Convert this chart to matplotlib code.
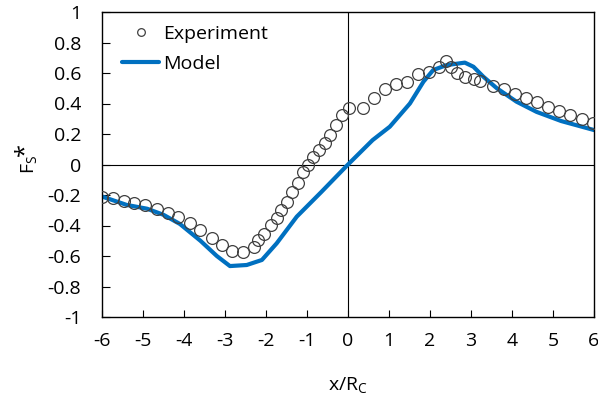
import matplotlib.pyplot as plt

plt.rcParams['font.family'] = ['Open Sans', 'DejaVu Sans']
plt.rcParams['axes.unicode_minus'] = False
plt.rcParams['mathtext.default'] = 'regular'

# experiment data
exp_x = [-6.0, -5.72, -5.46, -5.21, -4.95, -4.67, -4.40, -4.14, -3.85, -3.60, -3.32, -3.08,
         -2.84, -2.55, -2.29, -2.19, -2.04, -1.89, -1.74, -1.63, -1.50, -1.36, -1.21, -1.10,
         -0.97, -0.85, -0.71, -0.56, -0.44, -0.30, -0.15, 0.03, 0.37, 0.64, 0.90, 1.17, 1.45,
         1.71, 1.98, 2.22, 2.38, 2.50, 2.65, 2.85, 3.07, 3.22, 3.54, 3.80, 4.07, 4.34, 4.60,
         4.89, 5.15, 5.41, 5.70, 5.97]
exp_y = [-0.211, -0.222, -0.237, -0.254, -0.266, -0.294, -0.316, -0.342, -0.386, -0.43, -0.484, -0.528,
         -0.567, -0.572, -0.539, -0.495, -0.456, -0.397, -0.353, -0.298, -0.244, -0.178, -0.119, -0.047,
         -0.003, 0.051, 0.095, 0.139, 0.193, 0.259, 0.325, 0.369, 0.372, 0.434, 0.493, 0.528, 0.543,
         0.593, 0.609, 0.642, 0.680, 0.640, 0.600, 0.575, 0.558, 0.549, 0.515, 0.493, 0.462, 0.434, 0.412,
         0.379, 0.353, 0.325, 0.298, 0.270]

# model curve
model_x = [-6, -5.4, -4.9, -4.5, -4.1, -3.6, -3.2, -2.88, -2.47, -2.1, -1.74, -1.25, -0.65, 0,
           0.6, 1.02, 1.51, 1.84, 2.08, 2.41, 2.85, 3.06, 3.3, 3.63, 4.11, 4.6, 5.2, 6]
model_y = [-0.21, -0.265, -0.29, -0.33, -0.39, -0.5, -0.6, -0.666, -0.659, -0.626, -0.517, -0.342,
           -0.18, 0, 0.16, 0.248, 0.40, 0.543, 0.62, 0.652, 0.668, 0.641, 0.576, 0.5, 0.412, 0.345,
           0.285, 0.226]

fig = plt.figure(figsize=(5.98, 4), dpi=100)
ax = fig.add_axes([0.1706, 0.2075, 0.8227, 0.7625])

ax.axhline(0, color='black', lw=0.8, zorder=1)
ax.axvline(0, color='black', lw=0.8, zorder=1)

ax.plot(exp_x, exp_y, 'o', mfc='none', mec='#404040', mew=0.9, ms=8.5, label='Experiment', zorder=3)
ax.plot(model_x, model_y, color='#0070C0', lw=3, solid_joinstyle='round', solid_capstyle='round',
        label='Model', zorder=2)

ax.set_xlim(-6, 6)
ax.set_ylim(-1, 1)
ax.set_xticks(range(-6, 7))
ax.set_yticks([-1, -0.8, -0.6, -0.4, -0.2, 0, 0.2, 0.4, 0.6, 0.8, 1])
ax.set_yticklabels(['-1', '-0.8', '-0.6', '-0.4', '-0.2', '0', '0.2', '0.4', '0.6', '0.8', '1'])
ax.tick_params(axis='x', direction='in', length=5, width=0.8, pad=11, labelsize=14)
ax.tick_params(axis='y', direction='in', length=6, width=0.8, pad=15, labelsize=14)
for s in ax.spines.values():
    s.set_linewidth(1.0)

ax.set_xlabel('x/R$_C$', fontsize=14, labelpad=18)
ylab = ax.set_ylabel('F$_S$', fontsize=14, labelpad=6)
ax.annotate('*', xy=(0.3, 0.95), xycoords=ylab, rotation=90, ha='center', va='bottom',
            fontsize=17)

ax.legend(loc='upper left', frameon=False, fontsize=14, handlelength=1.9, markerscale=0.65,
          borderaxespad=0.25, handletextpad=0.2, labelspacing=0.65, bbox_to_anchor=(0.015, 1.0))

fig.savefig('out.png', dpi=100)
